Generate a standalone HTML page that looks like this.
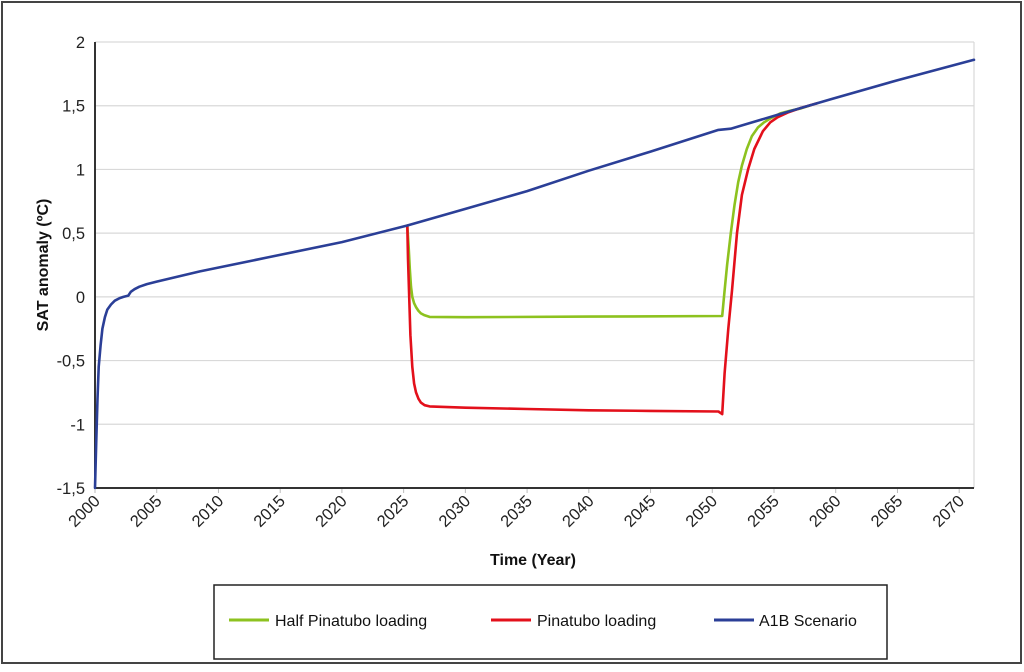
<!DOCTYPE html>
<html><head><meta charset="utf-8"><style>
body{margin:0;background:#fff;font-family:"Liberation Sans",Arial,sans-serif}
svg text{font-family:"Liberation Sans",Arial,sans-serif}
</style></head><body>
<svg id="chart" width="1024" height="667" xmlns="http://www.w3.org/2000/svg">
<rect x="2" y="2" width="1019" height="661" fill="#fff" stroke="#444" stroke-width="2"/>
<g id="grid"></g><g id="axes"></g><g id="series"></g>
<text x="0" y="0" transform="translate(48,265) rotate(-90)" text-anchor="middle" font-size="16" font-weight="bold" fill="#111">SAT anomaly (ºC)</text>
<text x="533" y="565" text-anchor="middle" font-size="16" font-weight="bold" fill="#111">Time (Year)</text>
<g>
<rect x="214" y="585" width="673" height="74" fill="#fff" stroke="#222" stroke-width="1.5"/>
<g><line x1="229" y1="620" x2="269" y2="620" stroke="#8dc21f" stroke-width="3"/><text x="275" y="626" font-size="16" fill="#111">Half Pinatubo loading</text></g>
<g><line x1="491" y1="620" x2="531" y2="620" stroke="#e3101b" stroke-width="3"/><text x="537" y="626" font-size="16" fill="#111">Pinatubo loading</text></g>
<g><line x1="714" y1="620" x2="754" y2="620" stroke="#2b3f97" stroke-width="3"/><text x="759" y="626" font-size="16" fill="#111">A1B Scenario</text></g>
</g>
</svg>
<script>
const yTicks=[-1.5,-1,-0.5,0,0.5,1,1.5,2];
const yTickLabels=["-1,5","-1","-0,5","0","0,5","1","1,5","2"];
const xTicks=[0,5,10,15,20,25,30,35,40,45,50,55,60,65,70];
const xTickLabels=["2000","2005","2010","2015","2020","2025","2030","2035","2040","2045","2050","2055","2060","2065","2070"];
const a1bYears=[0,0.1,0.2,0.3,0.45,0.6,0.8,1.0,1.3,1.6,2.0,2.3,2.7,2.9,3.2,3.6,4.2,5,8.5,14,20,25.3,30,35,40,45,50.5,51.5,55,59.6,65,71.2];
const a1bValues=[-1.5,-1.15,-0.8,-0.55,-0.38,-0.25,-0.16,-0.1,-0.06,-0.03,-0.01,0.0,0.01,0.04,0.06,0.08,0.1,0.12,0.2,0.31,0.43,0.56,0.69,0.83,0.99,1.14,1.31,1.32,1.42,1.55,1.7,1.86];
const halfYears=[25.3,25.4,25.5,25.6,25.7,25.85,26.0,26.2,26.4,26.7,27.1,30,40,50.8,51.0,51.2,51.5,51.8,52.1,52.4,52.8,53.2,53.7,54.2,54.7,55.5,56.3,57.2,58];
const halfValues=[0.56,0.4,0.22,0.08,0.0,-0.05,-0.08,-0.11,-0.13,-0.145,-0.157,-0.16,-0.155,-0.15,0.05,0.25,0.5,0.72,0.9,1.03,1.16,1.26,1.33,1.37,1.4,1.44,1.46,1.48,1.505];
const fullYears=[25.3,25.35,25.45,25.55,25.7,25.85,26.0,26.2,26.4,26.7,27.1,30,35,40,45,50.5,50.8,51.0,51.3,51.6,52.0,52.4,52.9,53.4,54.1,54.7,55.3,56.2,57.1,58.5];
const fullValues=[0.56,0.3,0.0,-0.3,-0.55,-0.68,-0.75,-0.8,-0.83,-0.85,-0.86,-0.87,-0.88,-0.89,-0.895,-0.9,-0.92,-0.6,-0.25,0.05,0.5,0.8,1.0,1.16,1.3,1.37,1.41,1.45,1.48,1.52];
const X0=95,X1=974,XMAX=71.2,Y0=488,YT=42;
const xs=v=>X0+(X1-X0)*v/XMAX;
const ys=v=>Y0-(Y0-YT)*(v+1.5)/3.5;
const NS="http://www.w3.org/2000/svg";
function mk(p,t,a){const e=document.createElementNS(NS,t);for(const k in a)e.setAttribute(k,a[k]);p.appendChild(e);return e;}
const grid=document.getElementById('grid'),axes=document.getElementById('axes'),ser=document.getElementById('series');
yTicks.forEach((v,i)=>{
 if(v>-1.5){const g=mk(grid,'line',{x1:X0,x2:X1,y1:ys(v),y2:ys(v),stroke:'#d9d9d9','stroke-width':1.2});
 
 }
 const t=mk(axes,'text',{x:85,y:ys(v)+6,'text-anchor':'end','font-size':16.5,fill:'#222'});t.textContent=yTickLabels[i];
 
 
});
mk(grid,'line',{x1:X1,x2:X1,y1:YT,y2:Y0,stroke:'#d9d9d9','stroke-width':1.2});
xTicks.forEach((v,i)=>{
 const x=xs(v);
 const tk=mk(axes,'line',{x1:x,x2:x,y1:Y0,y2:Y0+5,stroke:'#bbb','stroke-width':1});
 
 
 const t=mk(axes,'text',{x:0,y:0,'text-anchor':'end','font-size':16.5,fill:'#222',transform:`translate(${x+6},${Y0+14}) rotate(-45)`});
 t.textContent=xTickLabels[i];
 
 
});
const ax=mk(axes,'path',{d:`M${X0},${YT} V${Y0} H${X1}`,fill:'none',stroke:'#333','stroke-width':2});


function line(xsA,vsA,col,name){
 const d=xsA.map((x,i)=>(i?'L':'M')+xs(x).toFixed(1)+','+ys(vsA[i]).toFixed(1)).join(' ');
 const p=mk(ser,'path',{d:d,fill:'none',stroke:col,'stroke-width':2.6,'stroke-linejoin':'round','stroke-linecap':'round'});
 
 
}
line(halfYears,halfValues,'#8dc21f','half-pinatubo-line');
line(fullYears,fullValues,'#e3101b','pinatubo-line');
line(a1bYears,a1bValues,'#2b3f97','a1b-scenario-line');
</script>
</body></html>
